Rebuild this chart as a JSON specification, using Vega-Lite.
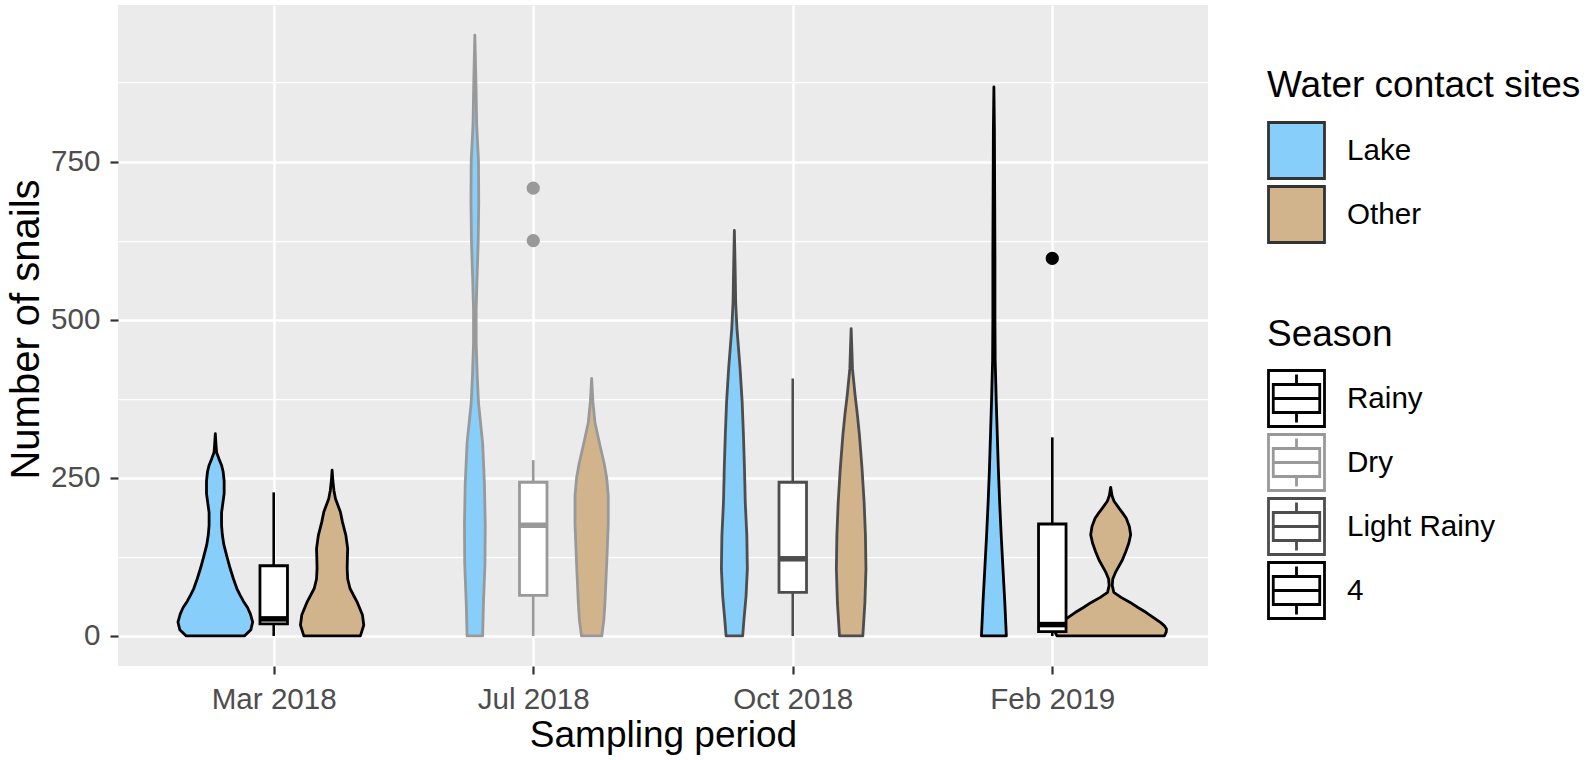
{
  "$schema": "https://vega.github.io/schema/vega-lite/v6.json",
  "autosize": {"type": "none"},
  "padding": {"left": 118, "top": 5, "right": 384, "bottom": 94},
  "width": 1090,
  "height": 661,
  "background": "#FFFFFF",
  "config": {"font": "Liberation Sans", "view": {"fill": "#EBEBEB", "stroke": null}},
  "resolve": {"legend": {"stroke": "independent"}},
  "datasets": {
    "violins": [
      {"period":1,"site":"Lake","season":"Rainy","n":0,"hw":0.112},
      {"period":1,"site":"Lake","season":"Rainy","n":10,"hw":0.137},
      {"period":1,"site":"Lake","season":"Rainy","n":22,"hw":0.144},
      {"period":1,"site":"Lake","season":"Rainy","n":35,"hw":0.135},
      {"period":1,"site":"Lake","season":"Rainy","n":45,"hw":0.124},
      {"period":1,"site":"Lake","season":"Rainy","n":55,"hw":0.108},
      {"period":1,"site":"Lake","season":"Rainy","n":65,"hw":0.095},
      {"period":1,"site":"Lake","season":"Rainy","n":75,"hw":0.083},
      {"period":1,"site":"Lake","season":"Rainy","n":90,"hw":0.070},
      {"period":1,"site":"Lake","season":"Rainy","n":107,"hw":0.057},
      {"period":1,"site":"Lake","season":"Rainy","n":125,"hw":0.045},
      {"period":1,"site":"Lake","season":"Rainy","n":144,"hw":0.033},
      {"period":1,"site":"Lake","season":"Rainy","n":160,"hw":0.027},
      {"period":1,"site":"Lake","season":"Rainy","n":175,"hw":0.024},
      {"period":1,"site":"Lake","season":"Rainy","n":195,"hw":0.024},
      {"period":1,"site":"Lake","season":"Rainy","n":210,"hw":0.029},
      {"period":1,"site":"Lake","season":"Rainy","n":225,"hw":0.034},
      {"period":1,"site":"Lake","season":"Rainy","n":245,"hw":0.034},
      {"period":1,"site":"Lake","season":"Rainy","n":260,"hw":0.030},
      {"period":1,"site":"Lake","season":"Rainy","n":270,"hw":0.024},
      {"period":1,"site":"Lake","season":"Rainy","n":280,"hw":0.014},
      {"period":1,"site":"Lake","season":"Rainy","n":290,"hw":0.005},
      {"period":1,"site":"Lake","season":"Rainy","n":300,"hw":0.003},
      {"period":1,"site":"Lake","season":"Rainy","n":320,"hw":0},
      {"period":1,"site":"Other","season":"Rainy","n":0,"hw":0.109},
      {"period":1,"site":"Other","season":"Rainy","n":17,"hw":0.122},
      {"period":1,"site":"Other","season":"Rainy","n":33,"hw":0.117},
      {"period":1,"site":"Other","season":"Rainy","n":54,"hw":0.096},
      {"period":1,"site":"Other","season":"Rainy","n":75,"hw":0.069},
      {"period":1,"site":"Other","season":"Rainy","n":90,"hw":0.060},
      {"period":1,"site":"Other","season":"Rainy","n":107,"hw":0.058},
      {"period":1,"site":"Other","season":"Rainy","n":125,"hw":0.059},
      {"period":1,"site":"Other","season":"Rainy","n":138,"hw":0.060},
      {"period":1,"site":"Other","season":"Rainy","n":159,"hw":0.053},
      {"period":1,"site":"Other","season":"Rainy","n":180,"hw":0.040},
      {"period":1,"site":"Other","season":"Rainy","n":196,"hw":0.032},
      {"period":1,"site":"Other","season":"Rainy","n":207,"hw":0.022},
      {"period":1,"site":"Other","season":"Rainy","n":217,"hw":0.013},
      {"period":1,"site":"Other","season":"Rainy","n":230,"hw":0.007},
      {"period":1,"site":"Other","season":"Rainy","n":245,"hw":0.003},
      {"period":1,"site":"Other","season":"Rainy","n":262,"hw":0},
      {"period":2,"site":"Lake","season":"Dry","n":0,"hw":0.030},
      {"period":2,"site":"Lake","season":"Dry","n":50,"hw":0.033},
      {"period":2,"site":"Lake","season":"Dry","n":114,"hw":0.039},
      {"period":2,"site":"Lake","season":"Dry","n":177,"hw":0.040},
      {"period":2,"site":"Lake","season":"Dry","n":241,"hw":0.037},
      {"period":2,"site":"Lake","season":"Dry","n":305,"hw":0.030},
      {"period":2,"site":"Lake","season":"Dry","n":369,"hw":0.014},
      {"period":2,"site":"Lake","season":"Dry","n":413,"hw":0.009},
      {"period":2,"site":"Lake","season":"Dry","n":464,"hw":0.005},
      {"period":2,"site":"Lake","season":"Dry","n":515,"hw":0.005},
      {"period":2,"site":"Lake","season":"Dry","n":560,"hw":0.008},
      {"period":2,"site":"Lake","season":"Dry","n":624,"hw":0.013},
      {"period":2,"site":"Lake","season":"Dry","n":687,"hw":0.015},
      {"period":2,"site":"Lake","season":"Dry","n":751,"hw":0.014},
      {"period":2,"site":"Lake","season":"Dry","n":809,"hw":0.007},
      {"period":2,"site":"Lake","season":"Dry","n":879,"hw":0.004},
      {"period":2,"site":"Lake","season":"Dry","n":950,"hw":0},
      {"period":2,"site":"Other","season":"Dry","n":0,"hw":0.039},
      {"period":2,"site":"Other","season":"Dry","n":25,"hw":0.047},
      {"period":2,"site":"Other","season":"Dry","n":50,"hw":0.051},
      {"period":2,"site":"Other","season":"Dry","n":114,"hw":0.058},
      {"period":2,"site":"Other","season":"Dry","n":177,"hw":0.064},
      {"period":2,"site":"Other","season":"Dry","n":222,"hw":0.064},
      {"period":2,"site":"Other","season":"Dry","n":250,"hw":0.058},
      {"period":2,"site":"Other","season":"Dry","n":273,"hw":0.048},
      {"period":2,"site":"Other","season":"Dry","n":305,"hw":0.030},
      {"period":2,"site":"Other","season":"Dry","n":337,"hw":0.013},
      {"period":2,"site":"Other","season":"Dry","n":370,"hw":0.005},
      {"period":2,"site":"Other","season":"Dry","n":407,"hw":0},
      {"period":3,"site":"Lake","season":"Light Rainy","n":0,"hw":0.032},
      {"period":3,"site":"Lake","season":"Light Rainy","n":26,"hw":0.037},
      {"period":3,"site":"Lake","season":"Light Rainy","n":63,"hw":0.045},
      {"period":3,"site":"Lake","season":"Light Rainy","n":106,"hw":0.050},
      {"period":3,"site":"Lake","season":"Light Rainy","n":159,"hw":0.048},
      {"period":3,"site":"Lake","season":"Light Rainy","n":211,"hw":0.042},
      {"period":3,"site":"Lake","season":"Light Rainy","n":264,"hw":0.039},
      {"period":3,"site":"Lake","season":"Light Rainy","n":317,"hw":0.035},
      {"period":3,"site":"Lake","season":"Light Rainy","n":370,"hw":0.030},
      {"period":3,"site":"Lake","season":"Light Rainy","n":423,"hw":0.022},
      {"period":3,"site":"Lake","season":"Light Rainy","n":486,"hw":0.010},
      {"period":3,"site":"Lake","season":"Light Rainy","n":528,"hw":0.005},
      {"period":3,"site":"Lake","season":"Light Rainy","n":580,"hw":0.003},
      {"period":3,"site":"Lake","season":"Light Rainy","n":641,"hw":0},
      {"period":3,"site":"Other","season":"Light Rainy","n":0,"hw":0.045},
      {"period":3,"site":"Other","season":"Light Rainy","n":53,"hw":0.053},
      {"period":3,"site":"Other","season":"Light Rainy","n":106,"hw":0.057},
      {"period":3,"site":"Other","season":"Light Rainy","n":159,"hw":0.055},
      {"period":3,"site":"Other","season":"Light Rainy","n":211,"hw":0.050},
      {"period":3,"site":"Other","season":"Light Rainy","n":264,"hw":0.042},
      {"period":3,"site":"Other","season":"Light Rainy","n":317,"hw":0.032},
      {"period":3,"site":"Other","season":"Light Rainy","n":350,"hw":0.024},
      {"period":3,"site":"Other","season":"Light Rainy","n":381,"hw":0.015},
      {"period":3,"site":"Other","season":"Light Rainy","n":423,"hw":0.005},
      {"period":3,"site":"Other","season":"Light Rainy","n":450,"hw":0.003},
      {"period":3,"site":"Other","season":"Light Rainy","n":486,"hw":0},
      {"period":4,"site":"Lake","season":"4","n":0,"hw":0.048},
      {"period":4,"site":"Lake","season":"4","n":53,"hw":0.042},
      {"period":4,"site":"Lake","season":"4","n":106,"hw":0.035},
      {"period":4,"site":"Lake","season":"4","n":160,"hw":0.028},
      {"period":4,"site":"Lake","season":"4","n":213,"hw":0.022},
      {"period":4,"site":"Lake","season":"4","n":266,"hw":0.017},
      {"period":4,"site":"Lake","season":"4","n":319,"hw":0.013},
      {"period":4,"site":"Lake","season":"4","n":372,"hw":0.009},
      {"period":4,"site":"Lake","season":"4","n":435,"hw":0.005},
      {"period":4,"site":"Lake","season":"4","n":500,"hw":0.004},
      {"period":4,"site":"Lake","season":"4","n":600,"hw":0.004},
      {"period":4,"site":"Lake","season":"4","n":700,"hw":0.003},
      {"period":4,"site":"Lake","season":"4","n":800,"hw":0.002},
      {"period":4,"site":"Lake","season":"4","n":868,"hw":0},
      {"period":4,"site":"Other","season":"4","n":0,"hw":0.207},
      {"period":4,"site":"Other","season":"4","n":6,"hw":0.214},
      {"period":4,"site":"Other","season":"4","n":11,"hw":0.215},
      {"period":4,"site":"Other","season":"4","n":16,"hw":0.207},
      {"period":4,"site":"Other","season":"4","n":21,"hw":0.193},
      {"period":4,"site":"Other","season":"4","n":29,"hw":0.165},
      {"period":4,"site":"Other","season":"4","n":37,"hw":0.137},
      {"period":4,"site":"Other","season":"4","n":45,"hw":0.105},
      {"period":4,"site":"Other","season":"4","n":53,"hw":0.075},
      {"period":4,"site":"Other","season":"4","n":61,"hw":0.040},
      {"period":4,"site":"Other","season":"4","n":69,"hw":0.012},
      {"period":4,"site":"Other","season":"4","n":80,"hw":0.006},
      {"period":4,"site":"Other","season":"4","n":90,"hw":0.008},
      {"period":4,"site":"Other","season":"4","n":100,"hw":0.018},
      {"period":4,"site":"Other","season":"4","n":106,"hw":0.026},
      {"period":4,"site":"Other","season":"4","n":120,"hw":0.045},
      {"period":4,"site":"Other","season":"4","n":133,"hw":0.058},
      {"period":4,"site":"Other","season":"4","n":147,"hw":0.070},
      {"period":4,"site":"Other","season":"4","n":160,"hw":0.077},
      {"period":4,"site":"Other","season":"4","n":173,"hw":0.072},
      {"period":4,"site":"Other","season":"4","n":186,"hw":0.060},
      {"period":4,"site":"Other","season":"4","n":195,"hw":0.045},
      {"period":4,"site":"Other","season":"4","n":202,"hw":0.032},
      {"period":4,"site":"Other","season":"4","n":213,"hw":0.013},
      {"period":4,"site":"Other","season":"4","n":222,"hw":0.005},
      {"period":4,"site":"Other","season":"4","n":235,"hw":0}
    ],
    "boxes": [
      {"period":1,"season":"Rainy","lower":0,"q1":19,"median":27,"q3":111,"upper":227},
      {"period":2,"season":"Dry","lower":0,"q1":64,"median":175,"q3":243,"upper":278},
      {"period":3,"season":"Light Rainy","lower":0,"q1":69,"median":122,"q3":243,"upper":407},
      {"period":4,"season":"4","lower":0,"q1":7,"median":18,"q3":177,"upper":314}
    ],
    "outliers": [
      {"period":2,"season":"Dry","value":708},
      {"period":2,"season":"Dry","value":625},
      {"period":4,"season":"4","value":597}
    ]
  },
  "layer": [
    {
      "data": {"name": "violins"},
      "transform": [
        {"calculate": "datum.period + (datum.site === 'Lake' ? -0.225 : 0.225)", "as": "center"},
        {"calculate": "datum.center - datum.hw", "as": "left"},
        {"calculate": "datum.center + datum.hw", "as": "right"},
        {"calculate": "datum.period + '-' + datum.site", "as": "group"}
      ],
      "mark": {"type": "area", "orient": "horizontal", "strokeWidth": 2.8, "opacity": 1, "fillOpacity": 1, "strokeJoin": "round"},
      "encoding": {
        "y": {
          "field": "n", "type": "quantitative",
          "scale": {"domain": [-47.5, 997.5], "nice": false, "zero": false},
          "axis": {
            "values": [0, 125, 250, 375, 500, 625, 750, 875],
            "labelExpr": "datum.value % 250 === 0 ? datum.label : ''",
            "grid": true, "gridColor": "#FFFFFF",
            "gridWidth": {"condition": {"test": "datum.value % 250 === 0", "value": 2.5}, "value": 1.25},
            "tickOpacity": {"condition": {"test": "datum.value % 250 === 0", "value": 1}, "value": 0},
            "tickColor": "#333333", "tickWidth": 2.2, "tickSize": 8,
            "labelPadding": 10, "labelFontSize": 29.6, "labelColor": "#4D4D4D",
            "domain": false,
            "title": "Number of snails", "titleFontSize": 40, "titleFontWeight": "normal", "titleColor": "#000000",
            "titleX": -80, "titleY": 324, "titleBaseline": "alphabetic", "titleAngle": -90, "titleAlign": "center", "titleLimit": 600
          }
        },
        "x": {
          "field": "left", "type": "quantitative", "stack": null,
          "scale": {"domain": [0.4, 4.6], "nice": false, "zero": false},
          "axis": {
            "values": [1, 2, 3, 4],
            "labelExpr": "['','Mar 2018','Jul 2018','Oct 2018','Feb 2019'][datum.value]",
            "grid": true, "gridColor": "#FFFFFF", "gridWidth": 2.5,
            "tickColor": "#333333", "tickWidth": 2.2, "tickSize": 8,
            "labelPadding": 34, "labelBaseline": "alphabetic", "labelFontSize": 29.6, "labelColor": "#4D4D4D",
            "domain": false,
            "title": "Sampling period", "titleFontSize": 37, "titleFontWeight": "normal", "titleColor": "#000000",
            "titleX": 545, "titleY": 80, "titleBaseline": "alphabetic", "titleAlign": "center", "titleLimit": 600
          }
        },
        "x2": {"field": "right"},
        "detail": {"field": "group"},
        "fill": {
          "field": "site", "type": "nominal",
          "scale": {"domain": ["Lake", "Other"], "range": ["#87CEFA", "#D2B48C"]},
          "legend": {
            "title": "Water contact sites", "orient": "none", "legendX": 1149, "legendY": 63,
            "symbolType": "square", "symbolSize": 3136, "symbolStrokeColor": "#333333", "symbolStrokeWidth": 2.8,
            "rowPadding": -15, "titlePadding": 16, "labelOffset": 21, "padding": 0, "titleLimit": 500,
            "titleFontSize": 37, "titleFontWeight": "normal", "titleColor": "#000000",
            "labelFontSize": 29.6, "labelColor": "#000000",
            "encode": {"symbols": {"update": {"stroke": {"value": "#333333"}, "strokeWidth": {"value": 2.8}, "opacity": {"value": 1}}}}
          }
        },
        "stroke": {
          "field": "season", "type": "nominal",
          "scale": {"domain": ["Rainy", "Dry", "Light Rainy", "4"], "range": ["#000000", "#999999", "#4D4D4D", "#000000"]},
          "legend": null
        }
      }
    },
    {
      "data": {"name": "boxes"},
      "mark": {"type": "rule", "strokeWidth": 2.6},
      "encoding": {
        "x": {"field": "period", "type": "quantitative"},
        "y": {"field": "lower", "type": "quantitative"},
        "y2": {"field": "upper"},
        "stroke": {"field": "season", "type": "nominal", "legend": null}
      }
    },
    {
      "data": {"name": "boxes"},
      "transform": [
        {"calculate": "datum.period - 0.053", "as": "bl"},
        {"calculate": "datum.period + 0.053", "as": "br"}
      ],
      "mark": {"type": "rect", "fill": "#FFFFFF", "strokeWidth": 2.8, "opacity": 1},
      "encoding": {
        "x": {"field": "bl", "type": "quantitative"},
        "x2": {"field": "br"},
        "y": {"field": "q1", "type": "quantitative"},
        "y2": {"field": "q3"},
        "stroke": {
          "field": "season", "type": "nominal",
          "legend": {
            "title": "Season", "orient": "none", "legendX": 1149, "legendY": 312,
            "symbolType": "M-1,-1H1V1H-1Z M-0.83,-0.5H0.83V0.5H-0.83Z M-0.83,0H0.83 M0,-0.5V-0.86 M0,0.5V0.86",
            "symbolSize": 3136, "symbolStrokeWidth": 2.8, "symbolFillColor": "#FFFFFF",
            "rowPadding": -15, "titlePadding": 15, "labelOffset": 21, "padding": 0, "titleLimit": 500,
            "titleFontSize": 37, "titleFontWeight": "normal", "titleColor": "#000000",
            "labelFontSize": 29.6, "labelColor": "#000000",
            "encode": {"symbols": {"update": {"fill": {"value": "#FFFFFF"}, "strokeWidth": {"value": 2.8}, "opacity": {"value": 1}}}}
          }
        }
      }
    },
    {
      "data": {"name": "boxes"},
      "transform": [
        {"calculate": "datum.period - 0.053", "as": "bl"},
        {"calculate": "datum.period + 0.053", "as": "br"}
      ],
      "mark": {"type": "rule", "strokeWidth": 5.5},
      "encoding": {
        "x": {"field": "bl", "type": "quantitative"},
        "x2": {"field": "br"},
        "y": {"field": "median", "type": "quantitative"},
        "stroke": {"field": "season", "type": "nominal", "legend": null}
      }
    },
    {
      "data": {"name": "outliers"},
      "mark": {"type": "point", "filled": true, "shape": "circle", "size": 177, "opacity": 1},
      "encoding": {
        "x": {"field": "period", "type": "quantitative"},
        "y": {"field": "value", "type": "quantitative"},
        "color": {
          "field": "season", "type": "nominal",
          "scale": {"domain": ["Rainy", "Dry", "Light Rainy", "4"], "range": ["#000000", "#999999", "#4D4D4D", "#000000"]},
          "legend": null
        }
      }
    }
  ]
}
